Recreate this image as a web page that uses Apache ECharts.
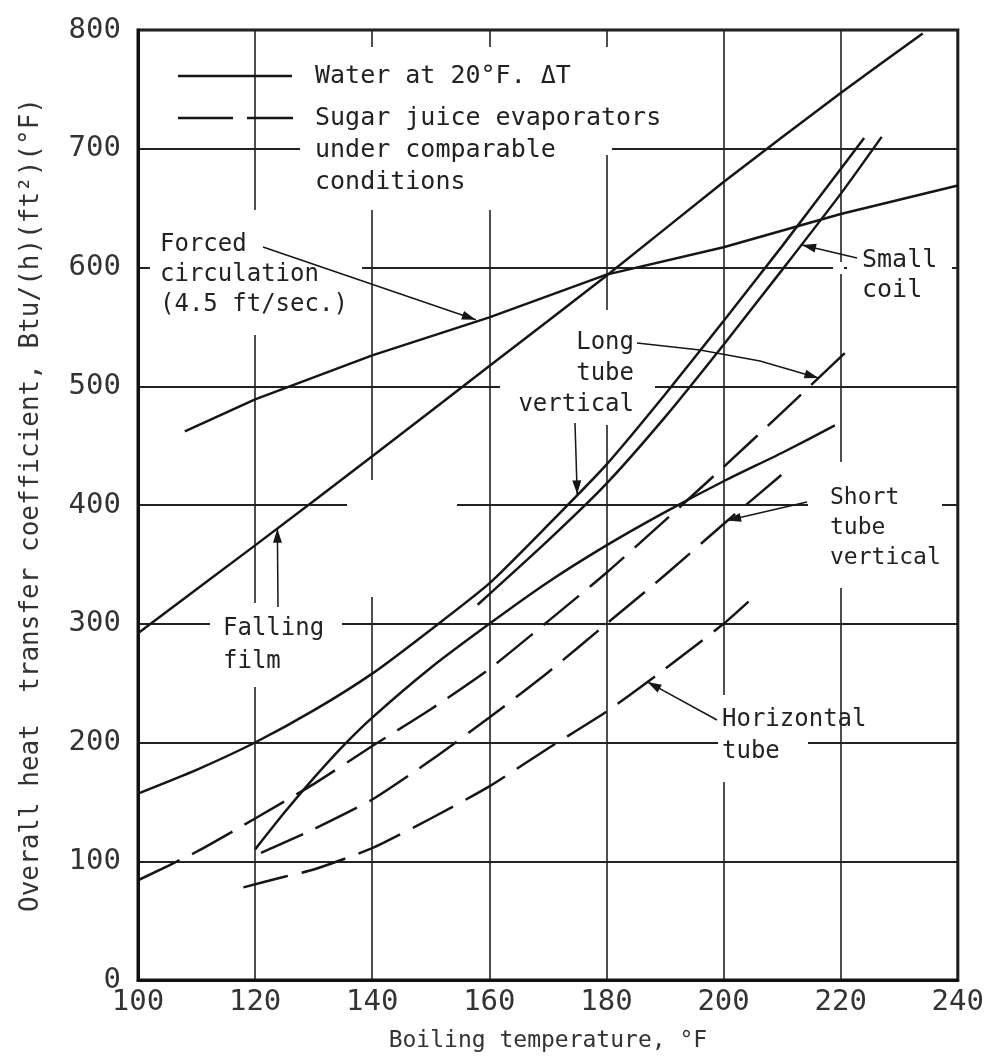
<!DOCTYPE html>
<html><head><meta charset="utf-8">
<script src="https://cdn.jsdelivr.net/npm/echarts@6/dist/echarts.min.js"></script>
<style>html,body{margin:0;padding:0;background:#fff}#c{width:987px;height:1060px}</style>
</head><body><div id="c"></div>
<script>
// ---- data ----
const xTicks = [100, 120, 140, 160, 180, 200, 220, 240];
const yTicks = [0, 100, 200, 300, 400, 500, 600, 700, 800];

// Water at 20°F ΔT (solid)
const forcedCirculation = [[108,462],[120,489],[140,526],[160,558],[180,594],[200,617],[220,645],[240,669]];
const fallingFilm = [[100,292],[120,366],[140,441],[160,517],[180,593],[200,672],[220,747],[234,797]];
const longTubeWater = [[100,157],[110,177],[120,200],[130,227],[140,258],[150,295],[160,334],[170,383],[180,434],[190,493],[200,555],[210,618],[220,683],[224,709]];
const smallCoilWater = [[158,316],[170,370],[180,418],[190,474],[200,535],[210,598],[220,662],[227,710]];
const shortTubeWater = [[120,110],[125,141],[130,170],[135,197],[140,221],[150,263],[160,300],[170,335],[180,366],[190,394],[200,420],[210,444],[219,467]];

// Sugar juice evaporators (dashed)
const longTubeSugar = [[100,84],[110,108],[120,136],[130,165],[140,197],[150,228],[160,262],[170,302],[180,343],[190,387],[200,432],[210,478],[222,534]];
const shortTubeSugar = [[121,107],[130,127],[140,152],[150,185],[160,221],[170,259],[180,300],[190,341],[200,384],[211,430]];
const horizontalTubeSugar = [[118,78],[125,87],[130,93],[140,111],[150,136],[160,163],[170,195],[180,226],[190,262],[200,300],[205,322]];

// arrow tips (data coordinates on the curves)
const arrowTips = {
  forced: [157.7, 556], falling: [123.8, 380], longUpper: [216.2, 507],
  longLower: [175, 409], smallCoil: [213.4, 619], short: [200.6, 387], horizontal: [187, 251]
};

// ---- chart ----
const FONT = '"DejaVu Sans Mono", monospace';
const INK = '#161616';
const chart = echarts.init(document.getElementById('c'), null, {renderer: 'canvas'});

function ser(name, data, dashed, smooth) {
  return {
    name, type: 'line', data, symbol: 'none', showSymbol: false, z: 3,
    smooth: smooth,
    lineStyle: {color: INK, width: 2.5, type: dashed ? [46, 14] : 'solid'}
  };
}

chart.setOption({
  animation: false,
  backgroundColor: '#fff',
  grid: {left: 138, right: 24, top: 30, bottom: 80, show: true, borderColor: '#111', borderWidth: 3},
  xAxis: {
    type: 'value', min: xTicks[0], max: xTicks[xTicks.length - 1], interval: xTicks[1] - xTicks[0],
    axisLine: {show: true, lineStyle: {color: '#111', width: 3}},
    axisTick: {show: false},
    axisLabel: {fontFamily: FONT, fontSize: 29, color: '#333', margin: 8},
    splitLine: {show: true, lineStyle: {color: '#222', width: 1.6}},
    name: 'Boiling temperature, °F', nameLocation: 'middle', nameGap: 50,
    nameTextStyle: {fontFamily: FONT, fontSize: 23, color: '#333'}
  },
  yAxis: {
    type: 'value', min: yTicks[0], max: yTicks[yTicks.length - 1], interval: yTicks[1] - yTicks[0],
    axisLine: {show: true, lineStyle: {color: '#111', width: 3}},
    axisTick: {show: false},
    axisLabel: {fontFamily: FONT, fontSize: 29, color: '#333', margin: 17},
    splitLine: {show: true, lineStyle: {color: '#222', width: 2}},
    name: 'Overall heat  transfer coefficient, Btu/(h)(ft²)(°F)', nameLocation: 'middle', nameGap: 94,
    nameTextStyle: {fontFamily: FONT, fontSize: 26, color: '#333'}
  },
  series: [
    ser('Water at 20°F. ΔT', forcedCirculation, false, false),
    ser('Water at 20°F. ΔT', fallingFilm, false, 0.15),
    ser('Water at 20°F. ΔT', longTubeWater, false, 0.2),
    ser('Water at 20°F. ΔT', smallCoilWater, false, 0.2),
    ser('Water at 20°F. ΔT', shortTubeWater, false, 0.2),
    ser('Sugar juice evaporators', longTubeSugar, true, 0.2),
    ser('Sugar juice evaporators', shortTubeSugar, true, 0.2),
    ser('Sugar juice evaporators', horizontalTubeSugar, true, 0.2)
  ]
});

// ---- annotations ----
const P = (d) => chart.convertToPixel({gridIndex: 0}, d);
const g = [];
function mask(x, y, w, h) {
  g.push({type: 'rect', z: 1, shape: {x, y, width: w, height: h}, style: {fill: '#fff'}, silent: true});
}
function txt(text, x, y, size, lh, align) {
  g.push({type: 'text', z: 4, x, y, style: {text, font: size + 'px ' + FONT, fill: '#222',
    align: align || 'left', verticalAlign: 'top', lineHeight: lh}});
}
function arrow(tail, tipData) {
  const tip = P(tipData);
  const pts = tail.concat([tip]);
  g.push({type: 'polyline', z: 4, shape: {points: pts}, style: {stroke: INK, lineWidth: 1.5, fill: null}});
  const a = pts[pts.length - 2];
  const dx = tip[0] - a[0], dy = tip[1] - a[1];
  const L = Math.hypot(dx, dy), ux = dx / L, uy = dy / L;
  const hl = 14, hw = 4.5;
  const bx = tip[0] - ux * hl, by = tip[1] - uy * hl;
  g.push({type: 'polygon', z: 4, shape: {points: [tip, [bx - uy * hw, by + ux * hw], [bx + uy * hw, by - ux * hw]]},
    style: {fill: INK}});
}

// white patches where the printed figure breaks the grid for its lettering
mask(300, 47, 312, 108);
mask(300, 145, 262, 65);
mask(150, 210, 212, 125);
mask(210, 603, 132, 84);
mask(347, 480, 110, 117);
mask(500, 310, 155, 115);
mask(852, 245, 100, 60);
mask(833, 262, 11, 12);
mask(847, 262, 6, 12);
mask(808, 462, 134, 126);
mask(718, 695, 90, 87);

// legend
g.push({type: 'line', z: 4, shape: {x1: 178, y1: 76, x2: 292, y2: 76}, style: {stroke: INK, lineWidth: 2.5}});
g.push({type: 'line', z: 4, shape: {x1: 178, y1: 118, x2: 293, y2: 118}, style: {stroke: INK, lineWidth: 2.5, lineDash: [55, 14]}});
txt('Water at 20°F. ΔT', 315, 62, 25, 28);
txt('Sugar juice evaporators\nunder comparable\nconditions', 315, 102, 25, 32);

// curve labels
txt('Forced\ncirculation\n(4.5 ft/sec.)', 160, 230, 24, 30);
txt('Falling\nfilm', 223, 612, 24, 33);
txt('Long\ntube\nvertical', 634, 327, 24, 31, 'right');
txt('Small\ncoil', 862, 245, 25, 30);
txt('Short\ntube\nvertical', 830, 483, 23, 30);
txt('Horizontal\ntube', 722, 704, 24, 32);

// arrows
arrow([[263, 247]], arrowTips.forced);
arrow([[278, 607]], arrowTips.falling);
arrow([[637, 343], [700, 350], [760, 361]], arrowTips.longUpper);
arrow([[575, 423]], arrowTips.longLower);
arrow([[857, 258]], arrowTips.smallCoil);
arrow([[807, 502]], arrowTips.short);
arrow([[717, 720]], arrowTips.horizontal);

chart.setOption({graphic: {elements: g}});
</script></body></html>
